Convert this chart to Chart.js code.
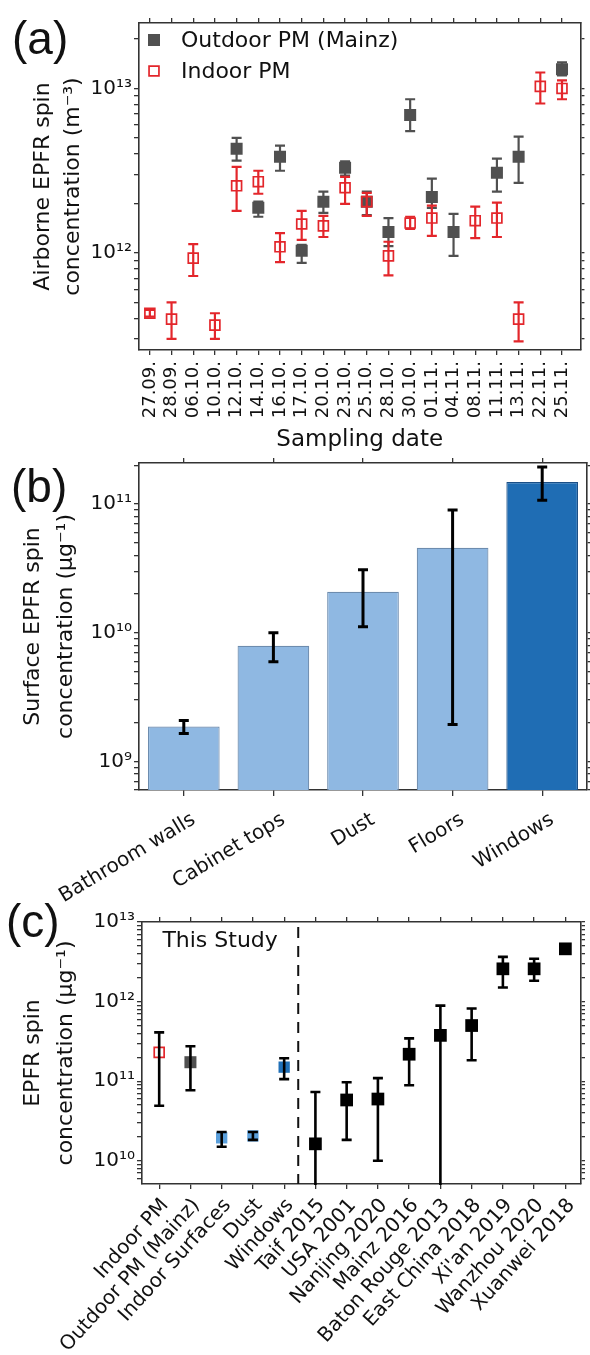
<!DOCTYPE html>
<html>
<head>
<meta charset="utf-8">
<title>EPFR spin concentrations</title>
<script src="https://cdn.jsdelivr.net/npm/chart.js@4.4.1/dist/chart.umd.min.js"></script>
<style>
  html, body { margin: 0; padding: 0; background: #fff; }
  #page { position: relative; width: 590px; height: 1355px; overflow: hidden; }
  canvas { position: absolute; left: 0; }
  .tag { position: absolute; font-family: "Liberation Sans", Arial, sans-serif; font-size: 46px; line-height: 1; color: #111; }
</style>
</head>
<body>
<div id="page">
  <canvas id="chartA" width="590" height="460" style="top:0"></canvas>
  <canvas id="chartB" width="590" height="457" style="top:448px"></canvas>
  <canvas id="chartC" width="590" height="475" style="top:880px"></canvas>
  <div class="tag" style="left:12px;top:15px">(a)</div>
  <div class="tag" style="left:11px;top:463px">(b)</div>
  <div class="tag" style="left:6px;top:898px">(c)</div>
</div>
<script>
// (a) airborne EPFR, per sampling date (m^-3)
var sampleDates = ['27.09.', '28.09.', '06.10.', '10.10.', '12.10.', '14.10.', '16.10.', '17.10.', '20.10.', '23.10.',
                   '25.10.', '28.10.', '30.10.', '01.11.', '04.11.', '08.11.', '11.11.', '13.11.', '22.11.', '25.11.'];
var outdoorPM   = [null, null, null, null, 4.3e12, 1.88e12, 3.85e12, 1.03e12, 2.05e12, 3.3e12,
                   2.05e12, 1.34e12, 6.9e12, 2.19e12, 1.34e12, null, 3.07e12, 3.85e12, null, 1.31e13];
var outdoorLow  = [null, null, null, null, 3.64e12, 1.66e12, 3.16e12, 8.7e11, 1.75e12, 2.95e12,
                   1.7e12, 1.1e12, 5.5e12, 1.88e12, 9.6e11, null, 2.36e12, 2.67e12, null, 1.2e13];
var outdoorHigh = [null, null, null, null, 5.0e12, 2.05e12, 4.49e12, 1.12e12, 2.36e12, 3.6e12,
                   2.36e12, 1.63e12, 8.6e12, 2.83e12, 1.73e12, null, 3.74e12, 5.1e12, null, 1.44e13];
var indoorPM    = [4.3e11, 3.96e11, 9.3e11, 3.64e11, 2.56e12, 2.71e12, 1.09e12, 1.5e12, 1.46e12, 2.49e12,
                   2.05e12, 9.6e11, 1.52e12, 1.63e12, null, 1.57e12, 1.63e12, 3.96e11, 1.03e13, 1.0e13];
var indoorLow   = [4.1e11, 3.0e11, 7.24e11, 3.0e11, 1.8e12, 2.29e12, 8.8e11, 1.2e12, 1.25e12, 1.99e12,
                   1.68e12, 7.3e11, 1.4e12, 1.27e12, null, 1.23e12, 1.25e12, 2.9e11, 8.1e12, 8.6e12];
var indoorHigh  = [4.5e11, 5.0e11, 1.13e12, 4.3e11, 3.34e12, 3.16e12, 1.32e12, 1.8e12, 1.68e12, 2.9e12,
                   2.32e12, 1.17e12, 1.66e12, 1.94e12, null, 1.91e12, 2.02e12, 5.0e11, 1.25e13, 1.12e13];

// (b) surface EPFR (ug^-1)
var surfaces    = ['Bathroom walls', 'Cabinet tops', 'Dust', 'Floors', 'Windows'];
var surfaceEPFR = [1.87e9, 7.9e9, 2.08e10, 4.56e10, 1.48e11];
var surfaceLow  = [1.65e9, 5.96e9, 1.11e10, 1.94e9, 1.07e11];
var surfaceHigh = [2.08e9, 1.0e10, 3.08e10, 8.98e10, 1.94e11];

// (c) this study vs literature (ug^-1)
var studies   = ['Indoor PM', 'Outdoor PM (Mainz)', 'Indoor Surfaces', 'Dust', 'Windows', 'Taif 2015', 'USA 2001',
                 'Nanjing 2020', 'Mainz 2016', 'Baton Rouge 2013', 'East China 2018', "Xi'an 2019", 'Wanzhou 2020', 'Xuanwei 2018'];
var studyEPFR = [2.3e11, 1.73e11, 1.94e10, 2.05e10, 1.5e11, 1.63e10, 5.8e10, 5.96e10, 2.18e11, 3.76e11, 5.0e11, 2.58e12, 2.58e12, 4.6e12];
var studyLow  = [4.9e10, 7.7e10, 1.5e10, 1.83e10, 1.06e11, 1e9, 1.83e10, 1e10, 8.9e10, 1e9, 1.83e11, 1.5e12, 1.83e12, null];
var studyHigh = [4.1e11, 2.74e11, 2.3e10, 2.3e10, 1.94e11, 7.3e10, 9.7e10, 1.09e11, 3.45e11, 8.9e11, 8.2e11, 3.65e12, 3.45e12, null];
var thisStudyEnd = 4.45;   // dashed divider, between Windows and Taif

var FONT = '"DejaVu Sans", sans-serif';
var INK = '#111';
var FRAME = '#333';
var RED = '#e3262b';
var GREY = '#505050';

Chart.defaults.font.family = FONT;
Chart.defaults.color = INK;

var SUP = { '0': '\u2070', '1': '\u00b9', '2': '\u00b2', '3': '\u00b3', '4': '\u2074', '5': '\u2075',
            '6': '\u2076', '7': '\u2077', '8': '\u2078', '9': '\u2079', '-': '\u207b' };

function powLabel(v) {
    var e = Math.log10(v);
    if (Math.abs(e - Math.round(e)) > 1e-6) return '';
    return '10' + String(Math.round(e)).split('').map(function (c) { return SUP[c]; }).join('');
}

// 1..9 x 10^k inside the axis range
function logTicks(scale) {
    var out = [];
    for (var k = Math.floor(Math.log10(scale.min)); k <= Math.ceil(Math.log10(scale.max)); k++) {
        for (var m = 1; m < 10; m++) {
            var v = m * Math.pow(10, k);
            if (v >= scale.min * 0.9999 && v <= scale.max * 1.0001) out.push({ value: v });
        }
    }
    scale.ticks = out;
}

function indexTicks(n) {
    return function (scale) {
        var out = [];
        for (var i = 0; i < n; i++) out.push({ value: i });
        scale.ticks = out;
    };
}

function grid(len) {
    return { drawOnChartArea: false, drawTicks: true, tickLength: len, color: FRAME, lineWidth: 1.3 };
}
var border = { color: FRAME, width: 1.6 };

function drawErrors(chart, args) {
    var ds = chart.data.datasets[args.index];
    if (!ds.errLow) return;
    var meta = args.meta;
    var yScale = chart.scales[meta.yAxisID];
    var a = chart.chartArea;
    var ctx = chart.ctx;
    ctx.save();
    ctx.beginPath();
    ctx.rect(a.left, a.top, a.right - a.left, a.bottom - a.top + 1);
    ctx.clip();
    ctx.strokeStyle = ds.errColor;
    ctx.lineWidth = ds.errWidth;
    meta.data.forEach(function (el, i) {
        var lo = ds.errLow[i], hi = ds.errHigh[i];
        if (lo == null || hi == null || el.skip) return;
        var x = el.x, c = ds.capHalf;
        var yLo = yScale.getPixelForValue(lo), yHi = yScale.getPixelForValue(hi);
        ctx.beginPath();
        ctx.moveTo(x, yLo); ctx.lineTo(x, yHi);
        ctx.moveTo(x - c, yLo); ctx.lineTo(x + c, yLo);
        ctx.moveTo(x - c, yHi); ctx.lineTo(x + c, yHi);
        ctx.stroke();
    });
    ctx.restore();
}

var errorBars = {
    id: 'errorBars',
    beforeDatasetDraw: function (chart, args) {
        if (!chart.data.datasets[args.index].errOnTop) drawErrors(chart, args);
    },
    afterDatasetDraw: function (chart, args) {
        if (chart.data.datasets[args.index].errOnTop) drawErrors(chart, args);
    }
};

var cornerLegend = {
    id: 'cornerLegend',
    afterDraw: function (chart) {
        var ctx = chart.ctx, a = chart.chartArea;
        ctx.save();
        chart.data.datasets.forEach(function (ds, i) {
            var cx = a.left + 15, cy = a.top + 17 + i * 31;
            ctx.fillStyle = ds.pointBackgroundColor;
            ctx.strokeStyle = ds.pointBorderColor;
            ctx.lineWidth = ds.pointBorderWidth;
            Chart.helpers.drawPoint(ctx, { pointStyle: 'rect', radius: ds.pointRadius, borderWidth: ds.pointBorderWidth, rotation: 0 }, cx, cy);
            ctx.fillStyle = INK;
            ctx.font = '22px ' + FONT;
            ctx.textBaseline = 'middle';
            ctx.fillText(ds.label, a.left + 42, cy + 1);
        });
        ctx.restore();
    }
};

var studyDivider = {
    id: 'studyDivider',
    beforeDatasetsDraw: function (chart) {
        var ctx = chart.ctx, a = chart.chartArea;
        var px = chart.scales.x.getPixelForValue(thisStudyEnd);
        ctx.save();
        ctx.setLineDash([11, 8]);
        ctx.lineWidth = 2;
        ctx.strokeStyle = INK;
        ctx.beginPath();
        ctx.moveTo(px, a.top + 5);
        ctx.lineTo(px, a.bottom);
        ctx.stroke();
        ctx.setLineDash([]);
        ctx.font = '22px ' + FONT;
        ctx.fillStyle = INK;
        ctx.textAlign = 'center';
        ctx.textBaseline = 'middle';
        ctx.fillText('This Study', (a.left + px) / 2, a.top + 19);
        ctx.restore();
    }
};

var base = {
    responsive: false,
    animation: false,
    devicePixelRatio: 1,
    layout: { padding: 0 },
    plugins: { legend: { display: false }, tooltip: { enabled: false } }
};

function logAxis(min, max, width, titleLines, titleGap, lineHeight) {
    return {
        type: 'logarithmic', position: 'left', min: min, max: max,
        afterBuildTicks: logTicks,
        ticks: { callback: powLabel, autoSkip: false, font: { size: 20 }, color: INK, padding: 2 },
        grid: grid(5), border: border,
        title: { display: true, text: titleLines, font: { size: 22, lineHeight: lineHeight }, color: INK, padding: { top: titleGap, bottom: 0 } },
        afterFit: function (s) { s.width = width; }
    };
}
function mirrorLog(min, max, width) {
    return {
        type: 'logarithmic', position: 'right', min: min, max: max,
        afterBuildTicks: logTicks, ticks: { display: false }, grid: grid(4), border: border,
        afterFit: function (s) { s.width = width; }
    };
}

// ---------- (a) ----------
new Chart(document.getElementById('chartA'), {
    type: 'scatter',
    data: {
        datasets: [
            {
                label: 'Outdoor PM (Mainz)',
                data: sampleDates.map(function (d, i) { return { x: i, y: outdoorPM[i] }; }),
                pointStyle: 'rect', pointRadius: 8.5, pointBackgroundColor: GREY, pointBorderColor: GREY, pointBorderWidth: 0,
                errLow: outdoorLow, errHigh: outdoorHigh, errColor: GREY, errWidth: 2.2, capHalf: 5,
                order: 1
            },
            {
                label: 'Indoor PM',
                data: sampleDates.map(function (d, i) { return { x: i, y: indoorPM[i] }; }),
                pointStyle: 'rect', pointRadius: 7, pointBackgroundColor: 'rgba(255,255,255,0)', pointBorderColor: RED, pointBorderWidth: 1.7,
                errLow: indoorLow, errHigh: indoorHigh, errColor: RED, errWidth: 2.2, capHalf: 5,
                order: 0
            }
        ]
    },
    options: Object.assign({}, base, {
        scales: {
            x: {
                type: 'linear', min: -0.5, max: 19.85,
                afterBuildTicks: indexTicks(sampleDates.length),
                ticks: { callback: function (v) { return sampleDates[v]; }, autoSkip: false, minRotation: 90, maxRotation: 90, font: { size: 18 }, color: INK, padding: 6 },
                grid: grid(5), border: border,
                title: { display: true, text: 'Sampling date', font: { size: 23 }, color: INK, padding: { top: 0, bottom: 6 } },
                afterFit: function (s) { s.height = 110; }
            },
            xTop: {
                type: 'linear', position: 'top', min: -0.5, max: 19.85,
                afterBuildTicks: indexTicks(sampleDates.length),
                ticks: { display: false }, grid: grid(5), border: border,
                afterFit: function (s) { s.height = 23; }
            },
            y: logAxis(2.57e11, 2.5e13, 139, ['Airborne EPFR spin', 'concentration (m\u207b\u00b3)'], 28, 1.36),
            yRight: mirrorLog(2.57e11, 2.5e13, 4)
        }
    }),
    plugins: [errorBars, cornerLegend]
});

// ---------- (b) ----------
var LIGHT = '#8fb8e2', LIGHT_EDGE = '#6d8cae', DARK = '#1f6db4', DARK_EDGE = '#1b4f86';
new Chart(document.getElementById('chartB'), {
    type: 'bar',
    data: {
        labels: surfaces,
        datasets: [{
            data: surfaceEPFR,
            backgroundColor: [LIGHT, LIGHT, LIGHT, LIGHT, DARK],
            borderColor: [LIGHT_EDGE, LIGHT_EDGE, LIGHT_EDGE, LIGHT_EDGE, DARK_EDGE],
            borderWidth: 1.2,
            barPercentage: 0.8, categoryPercentage: 1.0,
            errLow: surfaceLow, errHigh: surfaceHigh, errColor: '#000', errWidth: 3, capHalf: 5, errOnTop: true
        }]
    },
    options: Object.assign({}, base, {
        scales: {
            x: {
                type: 'category', offset: true,
                ticks: { autoSkip: false, minRotation: 31, maxRotation: 31, font: { size: 20 }, color: INK, padding: 12, labelOffset: 10 },
                grid: Object.assign(grid(6), { offset: false }), border: border,
                afterFit: function (s) { s.height = 115; }
            },
            xTop: {
                type: 'category', position: 'top', offset: true,
                ticks: { display: false }, grid: Object.assign(grid(5), { offset: false }), border: border,
                afterFit: function (s) { s.height = 15; }
            },
            y: logAxis(6.0e8, 2.08e11, 139, ['Surface EPFR spin', 'concentration (\u03bcg\u207b\u00b9)'], 17, 1.5),
            yRight: mirrorLog(6.0e8, 2.08e11, 3)
        }
    }),
    plugins: [errorBars]
});

// ---------- (c) ----------
var SURF = '#5a9fdb', WIN = '#2070b8', BLACK = '#000';
new Chart(document.getElementById('chartC'), {
    type: 'scatter',
    data: {
        datasets: [{
            data: studies.map(function (s, i) { return { x: i, y: studyEPFR[i] }; }),
            pointStyle: 'rect',
            pointRadius: [7, 8.5, 8, 8, 8, 9, 9, 9, 9, 9, 9, 9, 9, 9],
            pointBackgroundColor: ['rgba(255,255,255,0)', GREY, SURF, SURF, WIN, BLACK, BLACK, BLACK, BLACK, BLACK, BLACK, BLACK, BLACK, BLACK],
            pointBorderColor: [RED, GREY, SURF, SURF, WIN, BLACK, BLACK, BLACK, BLACK, BLACK, BLACK, BLACK, BLACK, BLACK],
            pointBorderWidth: [1.7, 0, 0, 0, 0, 0, 0, 0, 0, 0, 0, 0, 0, 0],
            errLow: studyLow, errHigh: studyHigh, errColor: '#000', errWidth: 2.6, capHalf: 5, errOnTop: true
        }]
    },
    options: Object.assign({}, base, {
        scales: {
            x: {
                type: 'linear', min: -0.55, max: 13.5,
                afterBuildTicks: indexTicks(studies.length),
                ticks: { callback: function (v) { return studies[v]; }, autoSkip: false, minRotation: 48, maxRotation: 48, font: { size: 20 }, color: INK, padding: 5, labelOffset: 6 },
                grid: grid(5), border: border,
                afterFit: function (s) { s.height = 171; }
            },
            xTop: {
                type: 'linear', position: 'top', min: -0.55, max: 13.5,
                afterBuildTicks: indexTicks(studies.length),
                ticks: { display: false }, grid: grid(5), border: border,
                afterFit: function (s) { s.height = 42; }
            },
            y: logAxis(5.1e9, 1e13, 142, ['EPFR spin', 'concentration (\u03bcg\u207b\u00b9)'], 17, 1.5),
            yRight: mirrorLog(5.1e9, 1e13, 2)
        }
    }),
    plugins: [errorBars, studyDivider]
});
</script>
</body>
</html>
